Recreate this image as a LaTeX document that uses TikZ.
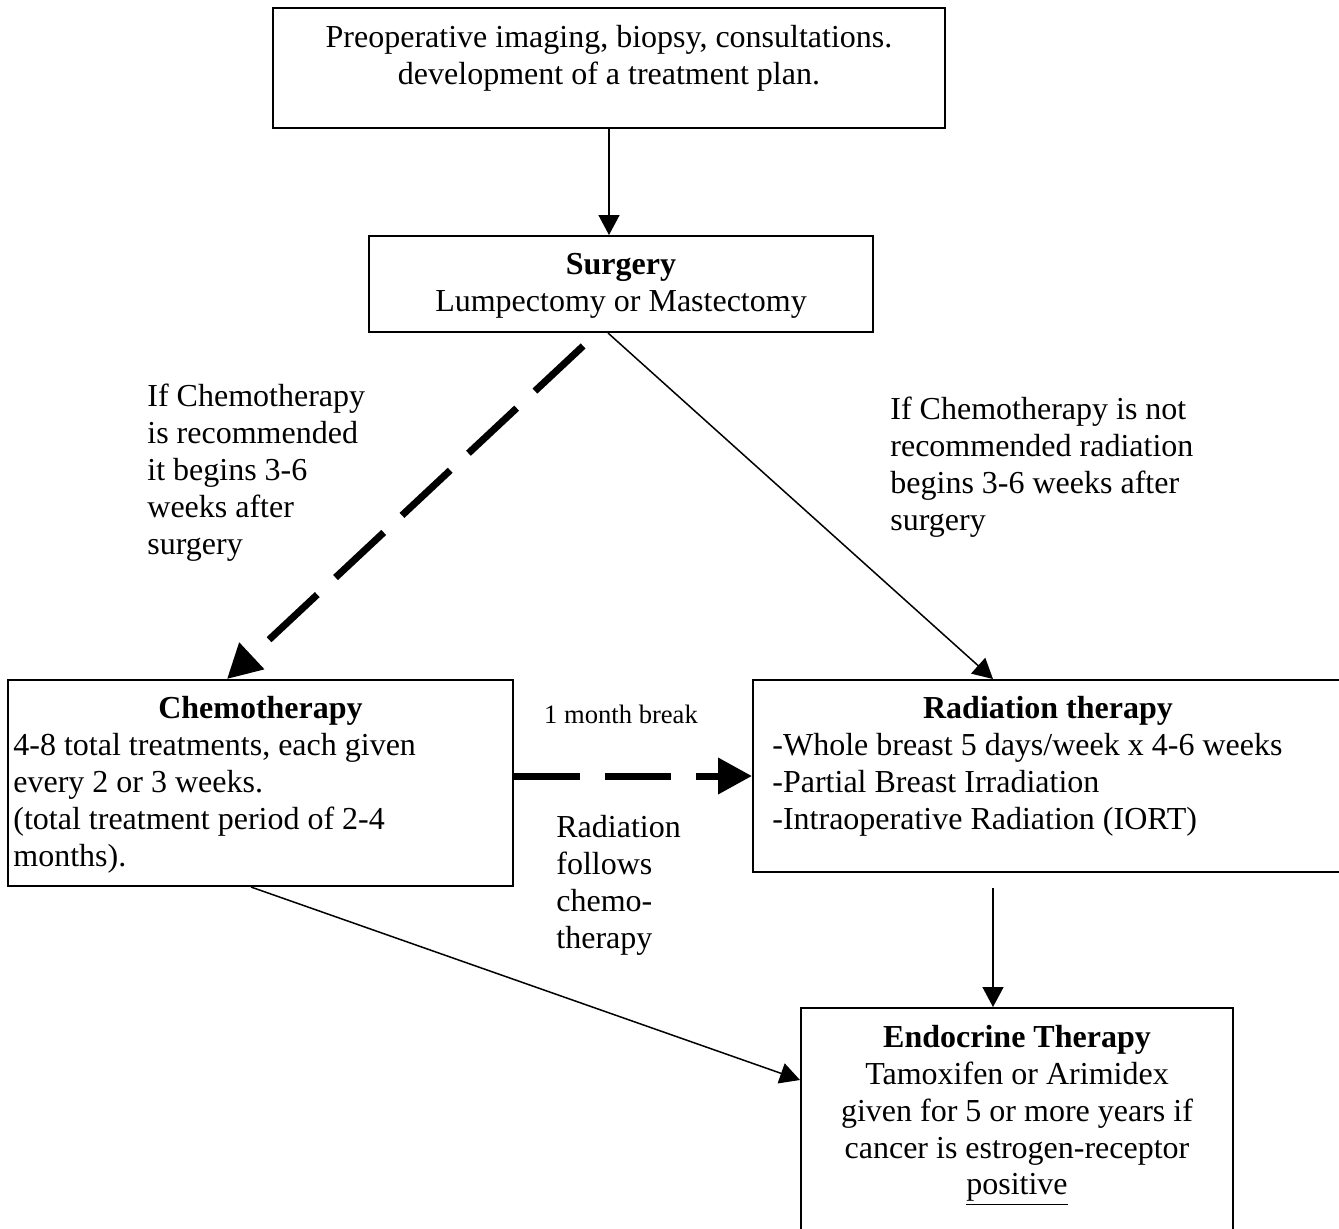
\documentclass[tikz,border=0pt]{standalone}
\usepackage{fontspec}
\setmainfont{Liberation Serif}
\usepackage{tikz}
\usetikzlibrary{arrows.meta, positioning}

\begin{document}
\begin{tikzpicture}[x=0.5pt, y=-0.5pt,
    font=\fontsize{16}{18.4}\selectfont,
    stage/.style={draw, line width=1pt, inner sep=0pt, anchor=north west},
    boxtext/.style={inner sep=0pt, align=center, anchor=north},
    listtext/.style={inner sep=0pt, align=left, anchor=north west},
    flow/.style={line width=0.75pt, -{Triangle[length=10pt, width=10.5pt]}},
    bigflow/.style={line width=3.5pt, dash pattern=on 33pt off 12.5pt,
                    -{Triangle[length=17pt, width=17.5pt]}}]

  \clip (0,0) rectangle (1339,1228);

  \node[stage, minimum width=336pt, minimum height=60pt] (pre) at (272,7) {};
  \node[stage, minimum width=252pt, minimum height=48pt] (surg) at (368,235) {};
  \node[stage, minimum width=252.5pt, minimum height=103pt] (chemo) at (7,679) {};
  \node[stage, minimum width=295pt, minimum height=96pt] (rad) at (752,679) {};
  \node[stage, minimum width=216pt, minimum height=130pt] (endo) at (800,1007) {};

  \node[boxtext, below=9pt of pre.north] (pretext)
    {Preoperative imaging, biopsy, consultations.\\development of a treatment plan.};
  \node[boxtext, below=9pt of surg.north] (surgtext)
    {\textbf{Surgery}\\Lumpectomy or Mastectomy};
  \node[boxtext, below=8.5pt of chemo.north] (chemotitle) {\textbf{Chemotherapy}};
  \node[listtext, below right=27pt and 3pt of chemo.north west] (chemotext)
    {4-8 total treatments, each given\\every 2 or 3 weeks.\\(total treatment period of 2-4\\months).};
  \node[boxtext, below=8.5pt of rad.north] (radtitle) {\textbf{Radiation therapy}};
  \node[listtext, below right=27pt and 10pt of rad.north west] (radtext)
    {-Whole breast 5 days/week x 4-6 weeks\\-Partial Breast Irradiation\\-Intraoperative Radiation (IORT)};
  \node[boxtext, below=9pt of endo.north] (endotext)
    {\textbf{Endocrine Therapy}\\Tamoxifen or Arimidex\\given for 5 or more years if\\cancer is estrogen-receptor\\\underline{positive}};

  \node[listtext] (ifchemo) at (147,384)
    {If Chemotherapy\\is recommended\\it begins 3-6\\weeks after\\surgery};
  \node[listtext] (ifnochemo) at (890,397)
    {If Chemotherapy is not\\recommended radiation\\begins 3-6 weeks after\\surgery};
  \node[boxtext, font=\fontsize{13.3}{15.3}\selectfont] (breaktext) at (621,705) {1 month break};
  \node[listtext] (followtext) at (556,815) {Radiation\\follows\\chemo-\\therapy};

  \draw[flow] (pre.south) -- (pre.south |- surg.north);
  \draw[bigflow, shorten <=9.5pt] ([xshift=-12pt]surg.south) -- ([xshift=-16.75pt]chemo.north);
  \draw[flow] ([xshift=-6.5pt]surg.south) -- ([xshift=-27.5pt]rad.north);
  \draw[bigflow] (chemo.east |- rad.west) -- (rad.west);
  \draw[flow] ([xshift=-4.75pt]chemo.south) -- ([yshift=-36.5pt]endo.north west);
  \draw[flow, shorten <=7.5pt] ([xshift=-27.5pt]rad.south) -- ([xshift=-27.5pt]rad.south |- endo.north);

\end{tikzpicture}
\end{document}
